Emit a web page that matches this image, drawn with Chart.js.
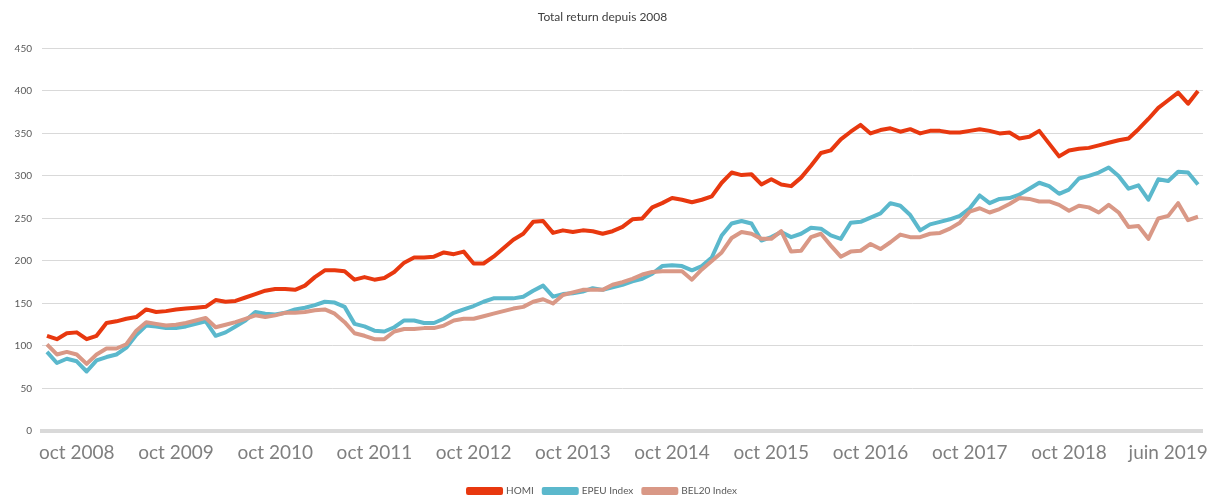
<!DOCTYPE html>
<html>
<head>
<meta charset="utf-8">
<script src="https://cdn.jsdelivr.net/npm/chart.js@4/dist/chart.umd.min.js"></script>
<style>
  html, body { margin: 0; padding: 0; background: #fff; }
  #wrap { width: 1208px; height: 501px; }
</style>
</head>
<body>
<div id="wrap"><canvas id="chart"></canvas></div>
<script>
// Tick labels shown along the bottom axis
const tickLabels = ["oct 2008", "oct 2009", "oct 2010", "oct 2011", "oct 2012", "oct 2013",
  "oct 2014", "oct 2015", "oct 2016", "oct 2017", "oct 2018", "juin 2019"];

// Series values (one point roughly every 5 weeks)
const homi = [
  112, 108, 115, 116, 108, 112, 127, 129, 132, 134,
  143, 140, 141, 143, 144, 145, 146, 154, 152, 153,
  157, 161, 165, 167, 167, 166, 171, 181, 189, 189,
  188, 178, 181, 178, 180, 187, 198, 204, 204, 205,
  210, 208, 211, 197, 197, 205, 215, 225, 232, 246,
  247, 233, 236, 234, 236, 235, 232, 235, 240, 249,
  250, 263, 268, 274, 272, 269, 272, 276, 292, 304,
  301, 302, 290, 296, 290, 288, 298, 312, 327, 330,
  343, 352, 360, 350, 354, 356, 352, 355, 350, 353,
  353, 351, 351, 353, 355, 353, 350, 351, 344, 346,
  353, 338, 323, 330, 332, 333, 336, 339, 342, 344,
  355, 367, 380, 389, 398, 385, 400
];
const epeu = [
  93, 80, 85, 82, 70, 83, 87, 90, 98, 113,
  124, 123, 121, 121, 123, 126, 129, 112, 116, 123,
  130, 140, 138, 137, 139, 143, 145, 148, 152, 151,
  146, 126, 123, 118, 117, 122, 130, 130, 127, 127,
  132, 139, 143, 147, 152, 156, 156, 156, 158, 165,
  171, 158, 161, 162, 164, 168, 166, 169, 172, 176,
  179, 185, 194, 195, 194, 189, 194, 204, 230, 244,
  247, 244, 224, 228, 234, 228, 232, 239, 238, 230,
  226, 245, 246, 251, 256, 268, 265, 254, 236, 243,
  246, 249, 253, 262, 277, 268, 273, 274, 278, 285,
  292, 288, 279, 284, 297, 300, 304, 310, 300, 285,
  289, 272, 296, 294, 305, 304, 290
];
const bel20 = [
  102, 90, 93, 90, 79, 90, 97, 97, 102, 118,
  128, 126, 124, 125, 127, 130, 133, 122, 125, 128,
  132, 136, 134, 136, 139, 139, 140, 142, 143, 138,
  128, 115, 112, 108, 108, 117, 120, 120, 121, 121,
  124, 130, 132, 132, 135, 138, 141, 144, 146, 152,
  155, 150, 160, 163, 166, 166, 166, 172, 175, 179,
  184, 187, 188, 188, 188, 178, 190, 200, 210, 227,
  234, 232, 226, 226, 235, 211, 212, 228, 232, 218,
  205, 211, 212, 220, 214, 222, 231, 228, 228, 232,
  233, 238, 245, 258, 262, 257, 261, 267, 274, 273,
  270, 270, 266, 259, 265, 263, 257, 266, 257, 240,
  241, 226, 250, 253, 268, 248, 252
];

const seriesNames = ["HOMI", "EPEU Index", "BEL20 Index"];
const seriesColors = ["#e8380f", "#5bb8cc", "#d99886"];

// one category per point, only some of them carry a tick label
const categories = homi.map((v, i) => ((i - 3) % 10 === 0 && i >= 3) ? tickLabels[(i - 3) / 10] : "");

const FONT = "Lato, 'Open Sans', sans-serif";

function makeSet(label, data, color, order) {
  return {
    label: label,
    data: data,
    borderColor: color,
    backgroundColor: color,
    borderWidth: 4,
    pointRadius: 0,
    tension: 0,
    borderJoinStyle: "round",
    order: order
  };
}

new Chart(document.getElementById("chart"), {
  type: "line",
  data: {
    labels: categories,
    datasets: [
      makeSet(seriesNames[0], homi, seriesColors[0], 1),
      makeSet(seriesNames[1], epeu, seriesColors[1], 3),
      makeSet(seriesNames[2], bel20, seriesColors[2], 2)
    ]
  },
  options: {
    responsive: true,
    maintainAspectRatio: false,
    animation: false,
    layout: { padding: { left: 0, right: 3, top: 0, bottom: -5 } },
    plugins: {
      title: {
        display: true,
        text: "Total return depuis 2008",
        color: "#404040",
        font: { family: FONT, size: 12, weight: "normal" },
        padding: { top: 10, bottom: 24 }
      },
      legend: {
        position: "bottom",
        labels: {
          color: "#595959",
          font: { family: FONT, size: 10 },
          boxWidth: 33,
          boxHeight: 4,
          padding: 10,
          sort: (a, b) => a.datasetIndex - b.datasetIndex
        }
      },
      tooltip: { enabled: false }
    },
    scales: {
      x: {
        offset: true,
        grid: { display: false, drawTicks: false },
        border: { display: true, color: "#d9d9d9", width: 4 },
        ticks: {
          autoSkip: false,
          maxRotation: 0,
          minRotation: 0,
          padding: 10,
          color: "#7f7f7f",
          font: { family: FONT, size: 19 },
          callback: function (value) { return this.getLabelForValue(value); }
        },
        afterFit: (scale) => { scale.height = 45; }
      },
      y: {
        min: 0,
        max: 450,
        grid: { color: "#d9d9d9", lineWidth: 1, drawTicks: false },
        border: { display: false },
        ticks: {
          stepSize: 50,
          padding: 10,
          color: "#595959",
          font: { family: FONT, size: 10 }
        },
        afterFit: (scale) => { scale.width = 42; }
      }
    }
  }
});
</script>
</body>
</html>
